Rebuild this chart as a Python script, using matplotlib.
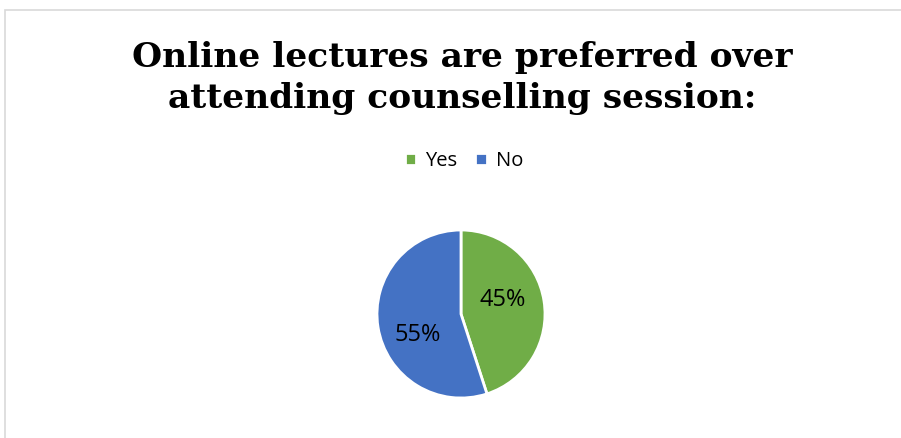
import matplotlib.pyplot as plt
from matplotlib.patches import Rectangle

labels = ['Yes', 'No']
shares = [45, 55]
colors = ['#70AD47', '#4472C4']
title = 'Online lectures are preferred over\nattending counselling session:'

fig = plt.figure(figsize=(9.01, 4.38), dpi=100)

# chart-area border (runs off the right and bottom edges)
fig.patches.append(Rectangle((5 / 901, -0.1), 1.2, (438 - 10) / 438 + 0.1,
                             transform=fig.transFigure, fill=False,
                             edgecolor='#D9D9D9', linewidth=1.2))

fig.text(0.513, 0.822, title, ha='center', va='center', fontsize=24.8,
         fontweight='heavy', family='DejaVu Serif', linespacing=1.3)

ax = fig.add_axes([(461 - 84) / 901, (124 - 84) / 438, 168 / 901, 168 / 438])
wedges, texts, autotexts = ax.pie(shares, colors=colors, startangle=90, counterclock=False,
                                  autopct='%d%%', pctdistance=0.5,
                                  wedgeprops=dict(edgecolor='white', linewidth=2),
                                  textprops=dict(fontsize=17, family='Open Sans', color='#000000'))
ax.set_xlim(-1, 1)
ax.set_ylim(-1, 1)
autotexts[0].set_position((0.5, 0.17))
autotexts[1].set_position((-0.52, -0.25))

fig.legend(wedges, labels, loc='center', bbox_to_anchor=(0.515, 0.633), ncol=2,
           frameon=False, prop=dict(family='Open Sans', size=14.5),
           handlelength=0.55, handleheight=0.55, handletextpad=0.45, columnspacing=0.9)

plt.savefig('out.png', dpi=100)
plt.close()
